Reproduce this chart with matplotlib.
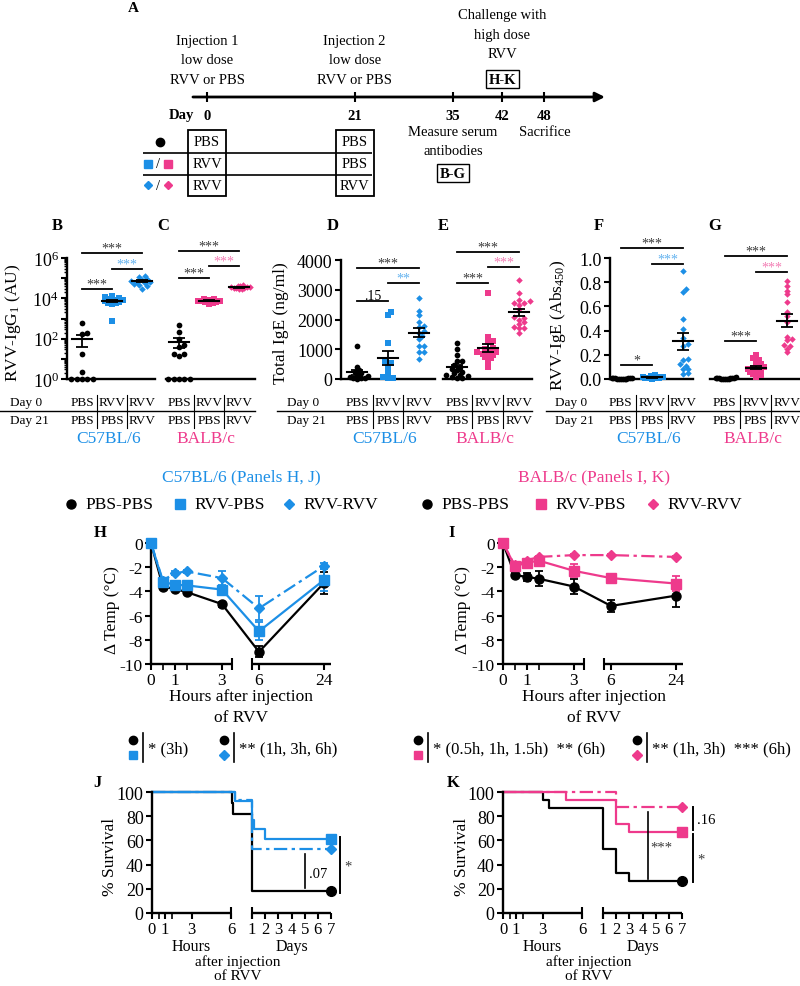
import numpy as np
import matplotlib.pyplot as plt
from matplotlib.transforms import blended_transform_factory as blend
from matplotlib.patches import Rectangle

plt.rcParams['font.family'] = ['Liberation Serif', 'DejaVu Serif']
plt.rcParams['mathtext.fontset'] = 'custom'
plt.rcParams['mathtext.rm'] = 'Liberation Serif'
plt.rcParams['mathtext.it'] = 'Liberation Serif:italic'
plt.rcParams['mathtext.bf'] = 'Liberation Serif:bold'
plt.rcParams['axes.unicode_minus'] = False
plt.rcParams['axes.linewidth'] = 1.7
for a in ('x', 'y'):
    plt.rcParams[a + 'tick.major.width'] = 1.5
    plt.rcParams[a + 'tick.minor.width'] = 1.2
    plt.rcParams[a + 'tick.major.size'] = 4
    plt.rcParams[a + 'tick.minor.size'] = 4
    plt.rcParams[a + 'tick.major.pad'] = 2

BLUE = '#1c8fe6'
PINK = '#ee3a8c'
LBLUE = '#62b2ef'
LPINK = '#f37db4'
GREY = '#3a3a3a'

# ---------------- data ----------------
timeline_days = [0, 21, 35, 42, 48]
day0 = ['PBS', 'RVV', 'RVV']
day21 = ['PBS', 'PBS', 'RVV']
group_names = ['PBS-PBS', 'RVV-PBS', 'RVV-RVV']

# B, C: RVV-IgG1 (AU)
igg1_c57 = ([600, 190, 170, 18, 2.2, 1, 1, 1, 1, 1],
            [12500, 11000, 10200, 9300, 8700, 8100, 7600, 7100, 6600, 6100, 5600, 5000, 750],
            [135000, 118000, 92000, 81000, 72000, 66000, 61000, 56000, 50000, 45000, 39000, 30000])
igg1_balb = ([470, 220, 95, 48, 38, 17, 17, 14, 1, 1, 1, 1, 1],
             [9600, 9100, 8600, 8200, 7800, 7400, 7100, 6800, 6400, 6000, 5500],
             [46000, 43000, 40500, 38500, 36500, 35000, 33800, 32500, 31000, 29500, 27500])
# D, E: total IgE (ng/ml)
ige_c57 = ([1100, 400, 300, 250, 200, 150, 100, 80, 50, 30, 20, 10],
           [2250, 2150, 1200, 620, 550, 450, 300, 150, 60, 30, 20],
           [2710, 2300, 2150, 1900, 1790, 1740, 1620, 1550, 1460, 1350, 1120, 1120, 900, 900, 670])
ige_balb = ([1200, 1000, 820, 620, 600, 470, 400, 350, 300, 250, 200, 150, 120, 100, 80, 50, 30],
            [2880, 1420, 1290, 1240, 900, 850, 1050, 1000, 950, 900, 850, 800, 750, 700, 600, 400],
            [3330, 2890, 2650, 2620, 2560, 2540, 2500, 2350, 2080, 2050, 2000, 1900, 1850, 1750,
             1720, 1700, 1550])
# F, G: RVV-IgE (Abs450)
rvvige_c57 = ([0.005, 0.004, 0.006, 0.003, 0.005, 0.004, 0.006, 0.005, 0.003, 0.004, 0.005, 0.004],
              [0.03, 0.028, 0.025, 0.02, 0.018, 0.015, 0.012, 0.01, 0.01, 0.008, 0.006, 0.005, 0.004],
              [0.89, 0.744, 0.72, 0.496, 0.41, 0.336, 0.275, 0.29, 0.165, 0.16, 0.124, 0.11, 0.083,
               0.083, 0.05, 0.045])
rvvige_balb = ([0.02, 0.012, 0.01, 0.008, 0.006, 0.005, 0.005, 0.004, 0.003, 0.003, 0.002, 0.002],
               [0.2, 0.17, 0.16, 0.14, 0.12, 0.11, 0.1, 0.09, 0.09, 0.08, 0.07, 0.07, 0.06, 0.05,
                0.04, 0.03, 0.02],
               [0.81, 0.77, 0.73, 0.70, 0.64, 0.55, 0.52, 0.47, 0.35, 0.33, 0.32, 0.27, 0.28, 0.25, 0.22])

# H, I: change in temperature (deg C), mean and SEM
temp_hours = [0, 0.5, 1, 1.5, 3, 6, 24]
c57_temp_pp = [0, -3.6, -3.8, -4.05, -5.05, -9.0, -3.3]
c57_sem_pp = [0, 0.15, 0.15, 0.15, 0.2, 0.45, 0.9]
c57_temp_rp = [0, -3.2, -3.45, -3.5, -3.85, -7.3, -3.05]
c57_sem_rp = [0, 0.2, 0.2, 0.2, 0.3, 0.75, 0.9]
c57_temp_rr = [0, -3.1, -2.5, -2.35, -2.9, -5.4, -1.9]
c57_sem_rr = [0, 0.2, 0.15, 0.15, 0.55, 1.0, 0.25]
balb_temp_pp = [0, -2.65, -2.8, -2.95, -3.6, -5.2, -4.35]
balb_sem_pp = [0, 0.15, 0.35, 0.6, 0.65, 0.5, 0.95]
balb_temp_rp = [0, -1.9, -1.65, -1.45, -2.3, -2.9, -3.35]
balb_sem_rp = [0, 0.25, 0.25, 0.2, 0.55, 0.3, 0.65]
balb_temp_rr = [0, -1.85, -1.45, -1.15, -1.0, -1.0, -1.15]
balb_sem_rr = [0, 0.2, 0.15, 0.1, 0.1, 0.1, 0.1]

# J, K: survival (%), time in hours
c57_surv_t_pp = [0, 6.5, 8, 24, 168]
c57_surv_pp = [100, 90.9, 81.8, 18.2, 18.2]
c57_surv_t_rp = [0, 9, 24, 27.5, 48, 168]
c57_surv_rp = [100, 92.3, 76.9, 69.2, 61.5, 61.5]
c57_surv_t_rr = [0, 9, 24, 168]
c57_surv_rr = [100, 93.3, 53.3, 53.3]
balb_surv_t_pp = [0, 3, 3.5, 24, 48, 72, 168]
balb_surv_pp = [100, 93.3, 86.7, 53.3, 33.3, 26.7, 26.7]
balb_surv_t_rp = [0, 4.8, 48, 72, 168]
balb_surv_rp = [100, 93.3, 73.3, 66.7, 66.7]
balb_surv_t_rr = [0, 48, 168]
balb_surv_rr = [100, 87.5, 87.5]
surv_ticks = [0, 1, 3, 6, 24, 48, 72, 96, 120, 144, 168]
surv_ticklabels = ['0', '1', '3', '6', '1', '2', '3', '4', '5', '6', '7']

# ---------------- figure ----------------
W, H = 800, 987
fig = plt.figure(figsize=(8, 9.87), dpi=100)


def box(x0, y0, x1, y1):
    ax = fig.add_axes([x0 / W, 1 - y1 / H, (x1 - x0) / W, (y1 - y0) / H])
    ax.patch.set_visible(False)
    return ax


ov = fig.add_axes([0, 0, 1, 1], zorder=10)
ov.set_xlim(0, W)
ov.set_ylim(H, 0)
ov.axis('off')


def label(x, y, s, **kw):
    kw.setdefault('fontsize', 11.5)
    ov.text(x, y, s, ha='center', va='center', **kw)


# ---- panel A ----
axA = box(130, 0, 620, 200)
axA.set_xlim((130 - 207) / 7.03, (620 - 207) / 7.03)
axA.set_ylim(200, 0)
axA.axis('off')
axA.annotate('', xy=(56.6, 98), xytext=(-2, 98),
             arrowprops=dict(arrowstyle='-|>', lw=2, color='black', mutation_scale=14,
                             shrinkA=0, shrinkB=0))
axA.vlines(timeline_days, 93, 103, color='black', lw=1.5)
for d in timeline_days:
    axA.text(d, 116, str(d), ha='center', va='center', fontsize=10.5, fontweight='bold')
axA.text(-1.9, 116, 'Day', ha='right', va='center', fontsize=10.5, fontweight='bold')
tA = dict(ha='center', va='center', fontsize=10.5, linespacing=1.65)
axA.text(0, 61, 'Injection 1\nlow dose\nRVV or PBS', **tA)
axA.text(21, 61, 'Injection 2\nlow dose\nRVV or PBS', **tA)
axA.text(42, 35, 'Challenge with\nhigh dose\nRVV', **tA)
axA.text(35, 142, 'Measure serum\nantibodies', **tA)
axA.text(48, 132, 'Sacrifice', **tA)
bb = dict(boxstyle='square,pad=0.2', fc='white', ec='black', lw=1)
axA.text(42, 80, 'H-K', fontweight='bold', bbox=bb, **tA)
axA.text(35, 174, 'B-G', fontweight='bold', bbox=bb, **tA)
rows = [143, 165, 186]
axA.hlines([154, 176], -9.1, 23.4, color='black', lw=1.2)
for d, txt in ((0, day0), (21, day21)):
    axA.add_patch(Rectangle((d - 2.7, 131), 5.4, 66, fill=False, ec='black', lw=1.3))
    for r, s in zip(rows, txt):
        axA.text(d, r, s, **tA)
ov.text(133, 8, 'A', fontsize=11, fontweight='bold', ha='center', va='center')
ov.plot(160, 143, 'o', color='black', ms=6)
ov.plot(148, 165, 's', color=BLUE, ms=6)
ov.plot(168, 165, 's', color=PINK, ms=6)
ov.plot(148, 186, 'D', color=BLUE, ms=4.5)
ov.plot(168, 186, 'D', color=PINK, ms=4.5)
label(158, 165, '/', fontsize=10.5)
label(158, 186, '/', fontsize=10.5)


# ---- panels B-G ----
def beeswarm(ypx, d, max_off):
    offs = np.zeros(len(ypx))
    placed = []
    for i in np.argsort(ypx, kind='stable'):
        k = 0
        while True:
            off = ((k + 1) // 2) * d * 0.75 * (1 if k % 2 else -1)
            if all((off - po) ** 2 + (ypx[i] - py) ** 2 >= d * d for po, py in placed):
                break
            k += 1
        offs[i] = off
        placed.append((off, ypx[i]))
    widest = np.abs(offs).max()
    if widest > max_off:
        offs *= max_off / widest
    return offs


def strip(ax, groups, color):
    markers = ['o', 's', 'D']
    sizes = [17, 15, 11]
    cols = ['black', color, color]
    ppu = ax.transData.transform((1, 1))[0] - ax.transData.transform((0, 1))[0]
    for i, vals in enumerate(groups):
        vals = np.asarray(vals, float)
        ypx = ax.transData.transform(np.column_stack([np.full(len(vals), i), vals]))[:, 1]
        offs = beeswarm(ypx, 3.6, 0.36 * ppu)
        ax.scatter(i + offs / ppu, vals, s=sizes[i], marker=markers[i], color=cols[i], lw=0,
                   clip_on=False, zorder=3)
        m = vals.mean()
        se = vals.std(ddof=1) / np.sqrt(len(vals))
        ax.plot([i - 0.33, i + 0.33], [m, m], color='black', lw=1.5, zorder=4, clip_on=False)
        eb = ax.errorbar(i, m, yerr=se, color='black', capsize=4, elinewidth=1.3, capthick=1.3,
                         zorder=4, fmt='none')
        for art in eb.get_children():
            art.set_clip_on(False)


def strip_axes(x0, x1, ytop, xlim, left):
    ax = box(x0, ytop, x1, 380)
    ax.set_xlim(*xlim)
    ax.spines[['top', 'right']].set_visible(False)
    ax.spines['left'].set_visible(left)
    ax.set_xticks([])
    ax.tick_params(labelsize=13)
    return ax


def sig(ax, i, j, y, txt, color):
    tr = blend(ax.transData, ov.transData)
    ax.plot([i, j], [y, y], color='black', lw=1.3, transform=tr, clip_on=False)
    ax.text((i + j) / 2, y - 1.5, txt, color=color, fontsize=10, ha='center', va='baseline',
            transform=tr, clip_on=False)


def day_table(axes, x_left, x_right, x_text):
    ov.plot([x_left, x_right], [412, 412], color='black', lw=1)
    ov.text(x_text, 403, 'Day 0', fontsize=9.5, va='center')
    ov.text(x_text, 421, 'Day 21', fontsize=9.5, va='center')
    for ax, strain, col in zip(axes, ('C57BL/6', 'BALB/c'), (BLUE, PINK)):
        tr = blend(ax.transData, ov.transData)
        for i in range(3):
            ax.text(i, 403, day0[i], transform=tr, ha='center', va='center', fontsize=9.5)
            ax.text(i, 421, day21[i], transform=tr, ha='center', va='center', fontsize=9.5)
        for s in (0.5, 1.5):
            ax.plot([s, s], [396, 429], transform=tr, color='black', lw=0.8, clip_on=False)
        ax.text(0.9, 439, strain, transform=tr, ha='center', va='center', fontsize=12.5, color=col)


log_ticks = [1e0, 1e1, 1e2, 1e3, 1e4, 1e5, 1e6]
log_labels = ['$10^{0}$', '', '$10^{2}$', '', '$10^{4}$', '', '$10^{6}$']
minor_log = [m * 10 ** e for e in range(6) for m in range(2, 10)]

axB = strip_axes(67, 155, 259, (-0.5, 2.43), True)
axC = strip_axes(166, 255, 259, (-0.43, 2.53), False)
for ax in (axB, axC):
    ax.set_yscale('log')
    ax.set_ylim(1, 1e6)
axB.set_yticks(log_ticks)
axB.set_yticklabels(log_labels)
axB.set_yticks(minor_log, minor=True)
axB.tick_params(axis='y', which='minor', length=2.5, width=1)
axC.tick_params(axis='y', which='both', left=False, labelleft=False)
strip(axB, igg1_c57, BLUE)
strip(axC, igg1_balb, PINK)

axD = strip_axes(341, 435, 261, (-0.52, 2.52), True)
axE = strip_axes(443, 532, 261, (-0.45, 2.42), False)
for ax in (axD, axE):
    ax.set_ylim(0, 4000)
axD.set_yticks([0, 1000, 2000, 3000, 4000])
axE.set_yticks([])
strip(axD, ige_c57, BLUE)
strip(axE, ige_balb, PINK)

axF = strip_axes(610, 693, 259, (-0.35, 2.32), True)
axG = strip_axes(710, 799, 259, (-0.48, 2.39), False)
for ax in (axF, axG):
    ax.set_ylim(0, 1.0)
axF.set_yticks([0, 0.2, 0.4, 0.6, 0.8, 1.0])
axF.set_yticklabels(['0.0', '0.2', '0.4', '0.6', '0.8', '1.0'])
axG.set_yticks([])
strip(axF, rvvige_c57, BLUE)
strip(axG, rvvige_balb, PINK)

for ax, pairs in ((axB, [(0, 1, 290, '***', GREY), (0, 2, 254, '***', GREY), (1, 2, 270, '***', LBLUE)]),
                  (axC, [(0, 1, 279, '***', GREY), (0, 2, 252, '***', GREY), (1, 2, 267, '***', LPINK)]),
                  (axD, [(0, 1, 302, '.15', 'black'), (0, 2, 269, '***', GREY), (1, 2, 284, '**', LBLUE)]),
                  (axE, [(0, 1, 284, '***', GREY), (0, 2, 253, '***', GREY), (1, 2, 268, '***', LPINK)]),
                  (axF, [(0, 1, 366, '*', GREY), (0, 2, 249, '***', GREY), (1, 2, 265, '***', LBLUE)]),
                  (axG, [(0, 1, 342, '***', GREY), (0, 2, 257, '***', GREY), (1, 2, 273, '***', LPINK)])):
    for p in pairs:
        sig(ax, *p)

day_table((axB, axC), 0, 255, 10)
day_table((axD, axE), 277, 532, 287)
day_table((axF, axG), 546, 800, 555)

label(13, 323, 'RVV-IgG$_1$ (AU)', rotation=90, fontsize=12.5)
label(281, 323, 'Total IgE (ng/ml)', rotation=90, fontsize=12.5)
label(558, 325, 'RVV-IgE (Abs$_{450}$)', rotation=90, fontsize=12.5)
for x, s in ((57, 'B'), (163, 'C'), (333, 'D'), (443, 'E'), (599, 'F'), (715, 'G')):
    label(x, 226, s, fontsize=12, fontweight='bold')

# ---- legends for H-K ----
label(241, 477, 'C57BL/6 (Panels H, J)', color=BLUE, fontsize=12.5)
label(594, 477, 'BALB/c (Panels I, K)', color=PINK, fontsize=12.5)
for xs, col in (((71, 180, 289), BLUE), ((427, 541, 653), PINK)):
    for x, mk, ms, name in zip(xs, ('o', 's', 'D'), (6.5, 6.5, 4.8), group_names):
        ov.plot(x, 505, mk, color='black' if mk == 'o' else col, ms=ms)
        ov.text(x + 14, 505, name, fontsize=12.5, va='center')


# ---- panels H, I ----
temp_knots = [0, 3, 6, 24, 26]
temp_pos = [0, 71, 108, 173, 180]


def fwd_temp(x):
    return np.interp(x, temp_knots, temp_pos)


def inv_temp(p):
    return np.interp(p, temp_pos, temp_knots)


def broken_xaxis(ax, segs, breaks):
    ax.spines[['top', 'right', 'bottom']].set_visible(False)
    tr = blend(ax.transData, ax.transAxes)
    for a, b in segs:
        ax.plot([a, b], [0, 0], color='black', lw=1.7, transform=tr, clip_on=False,
                solid_capstyle='butt')
    for x in breaks:
        ax.plot([x], [0], marker='|', ms=8, mew=1.5, color='black', transform=tr, clip_on=False)


def temp_panel(x0, series):
    ax = box(x0, 544, x0 + 180, 665)
    ax.set_xscale('function', functions=(fwd_temp, inv_temp))
    ax.set_xlim(0, 26)
    ax.set_ylim(-10, 0)
    b1, b2 = float(inv_temp(81)), float(inv_temp(101))
    broken_xaxis(ax, [(0, b1), (b2, 26)], [b1, b2])
    ax.set_xticks([0, 1, 3, 6, 24])
    ax.set_xticklabels(['0', '1', '3', '6', '24'])
    ax.set_xticks([0.5, 1.5], minor=True)
    ax.set_yticks([0, -2, -4, -6, -8, -10])
    ax.tick_params(labelsize=12.5)
    for vals, sem, mk, ms, ls, col in series:
        eb = ax.errorbar(temp_hours, vals, yerr=sem, color=col, marker=mk, ms=ms, ls=ls, lw=1.6,
                         capsize=3, elinewidth=1.3, capthick=1.3, zorder=3)
        for art in eb.get_children():
            art.set_clip_on(False)
    return ax


DASHDOT = (0, (6, 2, 1.5, 2))
temp_panel(151, [(c57_temp_pp, c57_sem_pp, 'o', 6.5, '-', 'black'),
                 (c57_temp_rr, c57_sem_rr, 'D', 5, DASHDOT, BLUE),
                 (c57_temp_rp, c57_sem_rp, 's', 6.5, '-', BLUE)])
temp_panel(503, [(balb_temp_pp, balb_sem_pp, 'o', 6.5, '-', 'black'),
                 (balb_temp_rr, balb_sem_rr, 'D', 5, DASHDOT, PINK),
                 (balb_temp_rp, balb_sem_rp, 's', 6.5, '-', PINK)])
for x in (241, 594):
    label(x, 697, 'Hours after injection', fontsize=12.5)
    label(x, 718, 'of RVV', fontsize=12.5)
label(112, 610, 'Δ Temp (°C)', rotation=90, fontsize=12.5)
label(463, 610, 'Δ Temp (°C)', rotation=90, fontsize=12.5)
label(100, 533, 'H', fontsize=12, fontweight='bold')
label(452, 533, 'I', fontsize=12, fontweight='bold')

# stat keys below H and I
for xm, mk2, col, txt in ((133, 's', BLUE, '* (3h)'),
                          (224, 'D', BLUE, '** (1h, 3h, 6h)'),
                          (418, 's', PINK, '* (0.5h, 1h, 1.5h)  ** (6h)'),
                          (637, 'D', PINK, '** (1h, 3h)  *** (6h)')):
    ov.plot(xm, 741, 'o', color='black', ms=6)
    ov.plot(xm, 756, mk2, color=col, ms=6 if mk2 == 's' else 4.8)
    ov.plot([xm + 10, xm + 10], [734, 763], color='black', lw=1.2)
    ov.text(xm + 15, 749, txt, fontsize=12, va='center')

# ---- panels J, K ----
surv_knots = [0, 6, 24, 168, 200]
surv_pos = [0, 79, 100, 179, 196.3]


def fwd_surv(x):
    return np.interp(x, surv_knots, surv_pos)


def inv_surv(p):
    return np.interp(p, surv_pos, surv_knots)


def surv_panel(x0, curves):
    ax = box(x0, 793, x0 + 179, 914)
    ax.set_xscale('function', functions=(fwd_surv, inv_surv))
    ax.set_xlim(0, 168)
    ax.set_ylim(0, 100)
    broken_xaxis(ax, [(0, 6), (24, 168)], [6, 24])
    ax.set_xticks(surv_ticks)
    ax.set_xticklabels(surv_ticklabels)
    ax.set_xticks([0.5, 1.5], minor=True)
    ax.set_yticks([0, 20, 40, 60, 80, 100])
    ax.tick_params(axis='y', labelsize=13)
    ax.tick_params(axis='x', labelsize=12, pad=1.5)
    for t, s, mk, ms, ls, col in curves:
        ax.step(t, s, where='post', color=col, ls=ls, lw=1.6, clip_on=False)
        ax.plot(t[-1], s[-1], marker=mk, color=col, ms=ms, clip_on=False, zorder=4)
    return ax


axJ = surv_panel(152, [(c57_surv_t_pp, c57_surv_pp, 'o', 7, '-', 'black'),
                       (c57_surv_t_rr, c57_surv_rr, 'D', 5.5, DASHDOT, BLUE),
                       (c57_surv_t_rp, c57_surv_rp, 's', 7.5, '-', BLUE)])
axK = surv_panel(503, [(balb_surv_t_pp, balb_surv_pp, 'o', 7, '-', 'black'),
                       (balb_surv_t_rp, balb_surv_rp, 's', 7.5, '-', PINK),
                       (balb_surv_t_rr, balb_surv_rr, 'D', 5.5, DASHDOT, PINK)])
axJ.plot([120, 120], [49, 20.5], color='black', lw=1.2, clip_on=False)
axJ.plot([185, 185], [63, 16.5], color='black', lw=1.4, clip_on=False)
axK.plot([105.6, 105.6], [83.5, 28], color='black', lw=1.2, clip_on=False)
axK.plot([188, 188], [87.5, 68.5], color='black', lw=1.4, clip_on=False)
axK.plot([188, 188], [65.5, 25.5], color='black', lw=1.4, clip_on=False)
ov.text(309, 875, '.07', fontsize=10.5, va='center')
ov.text(344, 867, '*', fontsize=10.5, va='center', color=GREY)
ov.text(697, 820, '.16', fontsize=10.5, va='center')
ov.text(697, 860, '*', fontsize=10.5, va='center', color=GREY)
ov.text(650, 848, '***', fontsize=10.5, va='center', color=GREY)
for ax in (axJ, axK):
    tr = blend(ax.transData, ov.transData)
    ax.text(3, 947, 'Hours', transform=tr, ha='center', va='center', fontsize=11.5)
    ax.text(96, 947, 'Days', transform=tr, ha='center', va='center', fontsize=11.5)
for x in (238, 589):
    label(x, 962, 'after injection', fontsize=11)
    label(x, 977, 'of RVV', fontsize=11)
label(110, 857, '% Survival', rotation=90, fontsize=12.5)
label(462, 857, '% Survival', rotation=90, fontsize=12.5)
label(97, 783, 'J', fontsize=12, fontweight='bold')
label(453, 783, 'K', fontsize=12, fontweight='bold')

fig.savefig('out.png', dpi=100)
